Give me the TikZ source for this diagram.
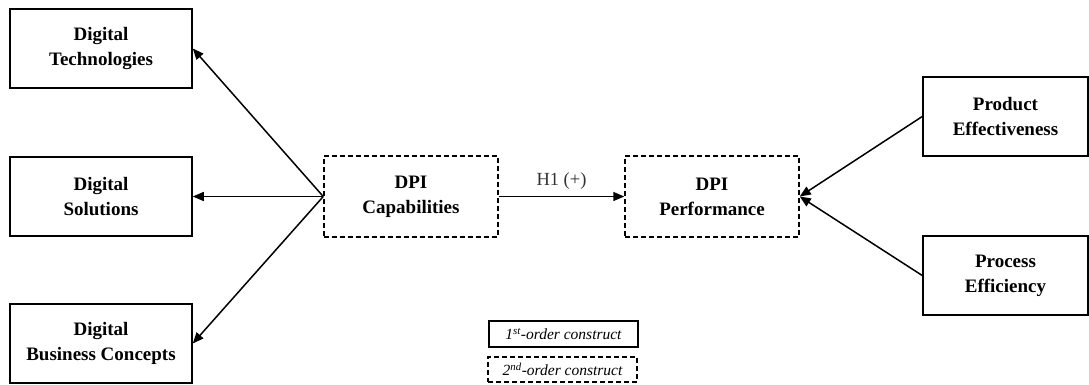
\documentclass[tikz,border=0pt]{standalone}
\usepackage{fontspec}
\setmainfont{Liberation Serif}
\usetikzlibrary{arrows.meta}
\begin{document}
\begin{tikzpicture}[x=1pt,y=-1pt,
  construct/.style={draw=black,line width=1.5pt,align=center,inner sep=0pt,
    font=\fontsize{19}{25}\selectfont\bfseries},
  firstorder/.style={construct,minimum width=182pt,minimum height=79pt},
  secondorder/.style={construct,dashed,dash pattern=on 5pt off 3pt,minimum width=174pt,minimum height=81pt},
  legendbox/.style={draw=black,line width=1.4pt,inner sep=0pt,
    font=\fontsize{15.5}{18}\selectfont\itshape},
  link/.style={line width=1.5pt,-{Triangle[length=11pt,width=9pt]}}
]
\useasboundingbox (0,0) rectangle (1089,385);

% first-order constructs (left)
\node[firstorder] (tech) at (101,48.5) {Digital\\Technologies};
\node[firstorder] (sol)  at (101,196.5) {Digital\\Solutions};
\node[firstorder] (bus)  at (101,343.5) {Digital\\Business Concepts};

% second-order constructs
\node[secondorder] (cap)  at (411,196.5) {DPI\\Capabilities};
\node[secondorder] (perf) at (712,196.5) {DPI\\Performance};

% first-order constructs (right)
\node[firstorder,minimum width=165pt] (prod) at (1005.5,116.5) {Product\\Effectiveness};
\node[firstorder,minimum width=165pt] (proc) at (1005.5,275.5) {Process\\Efficiency};

% legend
\node[legendbox,minimum width=149pt,minimum height=26pt] (leg1) at (563.5,334) {1\textsuperscript{st}-order construct};
\node[legendbox,dashed,dash pattern=on 5pt off 3pt,minimum width=149pt,minimum height=25pt] (leg2) at (562.5,369.5) {2\textsuperscript{nd}-order construct};

% connectors
\draw[link] (cap.west) -- (tech.east);
\draw[link] (cap.west) -- (sol.east);
\draw[link] (cap.west) -- (bus.east);
\draw[link] (cap.east) -- node[above=3pt,font=\fontsize{18.5}{22}\selectfont,text=black!80] {H1 (+)} (perf.west);
\draw[link] (prod.west) -- (perf.east);
\draw[link] (proc.west) -- (perf.east);
\end{tikzpicture}
\end{document}
